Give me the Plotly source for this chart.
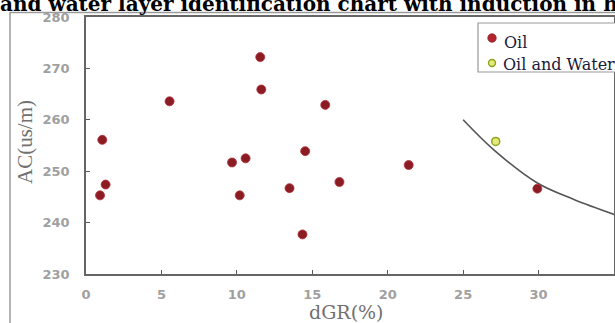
import plotly.graph_objects as go

# ---- data ----
oil_dgr = [0.93, 1.30, 1.08, 5.54, 9.68, 10.19, 10.58, 11.55, 11.62, 13.49,
           14.35, 14.53, 15.86, 16.80, 21.39, 29.92]
oil_ac = [245.3, 247.4, 256.1, 263.6, 251.7, 245.3, 252.5, 272.2, 265.9, 246.7,
          237.7, 253.9, 262.9, 247.9, 251.2, 246.6]

ow_dgr = [27.16]
ow_ac = [255.8]

curve_dgr = [25.0, 27.05, 29.92, 32.34, 35.1]
curve_ac = [260.0, 254.1, 247.7, 244.5, 241.5]

x_ticks = [0, 5, 10, 15, 20, 25, 30, 35]
y_ticks = [230, 240, 250, 260, 270, 280]

legend_names = ["Oil", "Oil and Water"]
title_text = "and water layer identification chart with induction in h"

# ---- layout constants (pixels, page coordinates) ----
W, H = 615, 323
L, R, T, B = 86, 1, 17, 49
pw, ph = W - L - R, H - T - B

OIL_COLOR = "#8c1c24"
OW_FILL, OW_EDGE = "#e4ea7a", "#8fa41e"


def px(x):
    return (x - L) / pw


def py(y):
    return 1 - (y - T) / ph


fig = go.Figure()

fig.add_trace(go.Scatter(
    x=curve_dgr, y=curve_ac, mode="lines", line=dict(color="#555555", width=1.6, shape="spline"),
    showlegend=False, hoverinfo="skip"))

fig.add_trace(go.Scatter(
    x=oil_dgr, y=oil_ac, mode="markers", name=legend_names[0], showlegend=False,
    marker=dict(color=OIL_COLOR, size=9, line=dict(color="#b0303a", width=0.8))))

fig.add_trace(go.Scatter(
    x=ow_dgr, y=ow_ac, mode="markers", name=legend_names[1], showlegend=False,
    marker=dict(color=OW_FILL, size=8, line=dict(color=OW_EDGE, width=1.5))))

axis_common = dict(
    showgrid=False, zeroline=False, showline=True, linecolor="#666666", linewidth=1.5,
    mirror=True, ticks="inside", ticklen=4, tickcolor="#555555",
    tickfont=dict(family="DejaVu Sans", size=13, color="#a0a0a0", weight="bold"),
)

fig.update_xaxes(range=[0, 35], tickvals=x_ticks, ticklabelstandoff=8, **axis_common)
fig.update_yaxes(range=[230, 280], tickvals=y_ticks, ticklabelstandoff=12, **axis_common)


def circle(cx, cy, r, fill, edge, w):
    return dict(type="circle", xref="paper", yref="paper",
                x0=px(cx - r), x1=px(cx + r), y0=py(cy + r), y1=py(cy - r),
                fillcolor=fill, line=dict(color=edge, width=w), layer="above")


shapes = [
    # white band above the frame (hides the top of the 280 label)
    dict(type="rect", xref="paper", yref="paper", x0=px(-5), x1=px(640), y0=py(13), y1=py(-5),
         line=dict(width=0), fillcolor="white", layer="above"),
    # outer frame of the figure image
    dict(type="rect", xref="paper", yref="paper", x0=px(10), x1=px(640), y0=py(12.5), y1=py(340),
         line=dict(color="#9a9a9a", width=1.5), fillcolor="rgba(0,0,0,0)", layer="above"),
    # legend box
    dict(type="rect", xref="paper", yref="paper", x0=px(478), x1=px(660), y0=py(72), y1=py(23),
         line=dict(color="#999999", width=1.2), fillcolor="white", layer="above"),
    circle(492, 38, 4.2, "#b3242c", "#8c1c24", 0.8),
    circle(492, 63, 3.5, OW_FILL, OW_EDGE, 1.4),
]

annotations = [
    dict(text="<b>" + title_text + "</b>", xref="paper", yref="paper",
         x=px(-2), y=py(18), xanchor="left", yanchor="bottom", showarrow=False,
         font=dict(family="DejaVu Serif", size=20, color="black")),
    dict(text="dGR(%)", xref="paper", yref="paper", x=px(346), y=py(312),
         xanchor="center", yanchor="middle", showarrow=False,
         font=dict(family="DejaVu Serif", size=19, color="#707070")),
    dict(text="AC(us/m)", xref="paper", yref="paper", x=px(25), y=py(142),
         xanchor="center", yanchor="middle", showarrow=False, textangle=-90,
         font=dict(family="Liberation Serif", size=21, color="#707070")),
    dict(text=legend_names[0], xref="paper", yref="paper", x=px(502), y=py(43),
         xanchor="left", yanchor="middle", showarrow=False,
         font=dict(family="DejaVu Serif", size=16, color="#1a1a3a")),
    dict(text=legend_names[1], xref="paper", yref="paper", x=px(501), y=py(64),
         xanchor="left", yanchor="middle", showarrow=False,
         font=dict(family="DejaVu Serif", size=16, color="#1a1a3a")),
]

fig.update_layout(
    width=W, height=H,
    margin=dict(l=L, r=R, t=T, b=B, pad=0, autoexpand=False),
    paper_bgcolor="white", plot_bgcolor="white",
    showlegend=False,
    shapes=shapes,
    annotations=annotations,
)

fig.write_html("out.html", config={"displayModeBar": False},
               post_script="document.body.style.margin='0';")
